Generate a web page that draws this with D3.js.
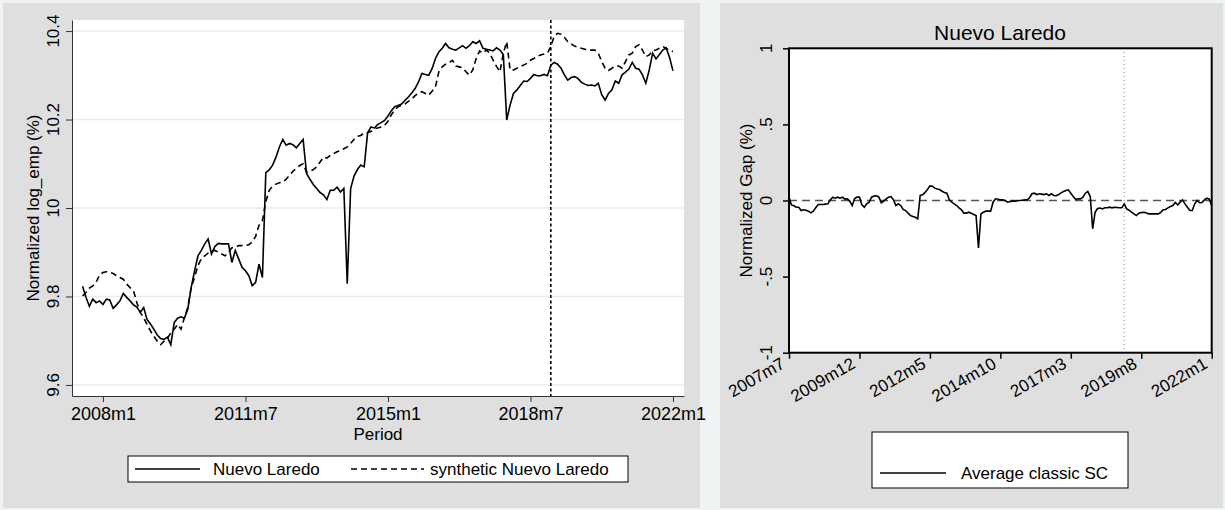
<!DOCTYPE html>
<html>
<head>
<meta charset="utf-8">
<script src="https://cdn.jsdelivr.net/npm/d3@7"></script>
<style>
  body { margin: 0; background: #f0f3f3; }
  text { font-family: "Liberation Sans", Arial, sans-serif; fill: #000; }
</style>
</head>
<body>
<div class="chart"></div>
<script>
// monthly periods 2007m7 .. 2022m1
let periods = []
for (let y = 2007, m = 7; y < 2022 || (y == 2022 && m <= 1); m++) {
  if (m > 12) { m = 1; y++ }
  if (y == 2022 && m > 1) break
  periods.push(y + "m" + m)
}

let leftTicks = ["2008m1", "2011m7", "2015m1", "2018m7", "2022m1"]
let rightTicks = ["2007m7", "2009m12", "2012m5", "2014m10", "2017m3", "2019m8", "2022m1"]
let treatment = "2019m1"
let leftYTicks = [9.6, 9.8, 10, 10.2, 10.4]
let leftYLabels = ["9.6", "9.8", "10", "10.2", "10.4"]
let rightYTicks = [-1, -0.5, 0, 0.5, 1]
let rightYLabels = ["-1", "-.5", "0", ".5", "1"]

let actual = [
  9.823, 9.798, 9.778, 9.794, 9.786, 9.790, 9.782, 9.794, 9.792, 9.773,
  9.781, 9.790, 9.807, 9.798, 9.790, 9.781, 9.776, 9.764, 9.775, 9.748,
  9.738, 9.726, 9.713, 9.705, 9.703, 9.708, 9.691, 9.741, 9.751, 9.754,
  9.751, 9.771, 9.820, 9.858, 9.892, 9.904, 9.919, 9.930, 9.896, 9.913,
  9.920, 9.919, 9.919, 9.919, 9.877, 9.904, 9.885, 9.866, 9.858, 9.847,
  9.824, 9.832, 9.873, 9.843, 10.080, 10.086, 10.097, 10.115, 10.138, 10.155,
  10.142, 10.146, 10.143, 10.136, 10.146, 10.155, 10.078, 10.065, 10.053, 10.044,
  10.035, 10.030, 10.019, 10.040, 10.040, 10.047, 10.036, 10.044, 9.829, 10.044,
  10.072, 10.087, 10.097, 10.093, 10.170, 10.183, 10.181, 10.189, 10.193, 10.198,
  10.208, 10.220, 10.229, 10.232, 10.235, 10.243, 10.251, 10.260, 10.270, 10.285,
  10.304, 10.302, 10.300, 10.315, 10.338, 10.353, 10.361, 10.372, 10.362, 10.359,
  10.357, 10.362, 10.367, 10.361, 10.367, 10.376, 10.372, 10.378, 10.361, 10.359,
  10.357, 10.355, 10.362, 10.357, 10.347, 10.199, 10.233, 10.259, 10.267, 10.277,
  10.287, 10.286, 10.293, 10.302, 10.299, 10.299, 10.302, 10.299, 10.323, 10.329,
  10.325, 10.316, 10.301, 10.289, 10.295, 10.297, 10.293, 10.284, 10.280, 10.277,
  10.278, 10.276, 10.282, 10.256, 10.244, 10.259, 10.267, 10.287, 10.282, 10.301,
  10.307, 10.314, 10.329, 10.316, 10.314, 10.301, 10.282, 10.312, 10.350, 10.337,
  10.347, 10.357, 10.362, 10.340, 10.310
]

let synthetic = [
  9.801, 9.809, 9.819, 9.824, 9.832, 9.849, 9.854, 9.856, 9.855, 9.852,
  9.847, 9.843, 9.839, 9.828, 9.820, 9.813, 9.786, 9.764, 9.752, 9.737,
  9.722, 9.710, 9.699, 9.691, 9.699, 9.705, 9.718, 9.726, 9.737, 9.726,
  9.752, 9.775, 9.820, 9.843, 9.870, 9.885, 9.892, 9.898, 9.902, 9.904,
  9.900, 9.896, 9.892, 9.900, 9.910, 9.911, 9.915, 9.915, 9.915, 9.917,
  9.923, 9.936, 9.961, 9.972, 10.014, 10.040, 10.049, 10.054, 10.057, 10.059,
  10.065, 10.074, 10.083, 10.090, 10.096, 10.100, 10.081, 10.083, 10.087, 10.093,
  10.104, 10.115, 10.113, 10.119, 10.123, 10.127, 10.130, 10.134, 10.138, 10.146,
  10.155, 10.162, 10.164, 10.170, 10.170, 10.173, 10.179, 10.181, 10.183, 10.187,
  10.196, 10.211, 10.221, 10.229, 10.232, 10.235, 10.241, 10.246, 10.254, 10.260,
  10.263, 10.259, 10.255, 10.264, 10.274, 10.308, 10.319, 10.325, 10.329, 10.334,
  10.321, 10.319, 10.317, 10.308, 10.300, 10.312, 10.338, 10.355, 10.350, 10.357,
  10.350, 10.334, 10.320, 10.308, 10.350, 10.376, 10.312, 10.312, 10.316, 10.320,
  10.323, 10.327, 10.334, 10.338, 10.343, 10.346, 10.348, 10.350, 10.365, 10.389,
  10.395, 10.393, 10.386, 10.376, 10.371, 10.366, 10.363, 10.361, 10.359, 10.357,
  10.357, 10.357, 10.350, 10.331, 10.316, 10.311, 10.316, 10.321, 10.321, 10.316,
  10.331, 10.346, 10.350, 10.365, 10.369, 10.357, 10.342, 10.346, 10.356, 10.357,
  10.361, 10.365, 10.361, 10.356, 10.354
]

let gap = [
  0.022, -0.029, -0.035, -0.044, -0.044, -0.066, -0.061, -0.064, -0.070, -0.081,
  -0.070, -0.048, -0.026, -0.026, -0.026, -0.024, -0.022, 0.004, 0.022, 0.015,
  0.022, 0.015, 0.022, 0.009, 0.011, -0.004, -0.033, 0.013, 0.022, 0.022,
  -0.029, -0.044, -0.022, -0.011, 0.022, 0.029, 0.031, 0.022, -0.015, -0.004,
  0.011, 0.022, 0.026, 0.004, -0.033, -0.022, -0.033, -0.059, -0.066, -0.083,
  -0.099, -0.105, -0.110, -0.121, 0.033, 0.037, 0.053, 0.072, 0.096, 0.094,
  0.081, 0.075, 0.072, 0.061, 0.053, 0.048, 0.004, -0.011, -0.022, -0.033,
  -0.048, -0.061, -0.083, -0.083, -0.077, -0.083, -0.092, -0.099, -0.311, -0.088,
  -0.077, -0.070, -0.070, -0.070, -0.011, 0.011, 0.008, 0.004, 0.004, 0.000,
  -0.011, -0.007, -0.004, -0.004, -0.002, 0.000, 0.002, 0.004, 0.004, 0.018,
  0.044, 0.048, 0.039, 0.044, 0.042, 0.039, 0.044, 0.033, 0.044, 0.033,
  0.031, 0.039, 0.050, 0.059, 0.066, 0.070, 0.048, 0.026, 0.007, 0.011,
  0.011, 0.022, 0.048, 0.059, 0.026, -0.186, -0.077, -0.053, -0.050, -0.055,
  -0.048, -0.048, -0.044, -0.048, -0.044, -0.046, -0.048, -0.048, -0.022, -0.055,
  -0.064, -0.077, -0.088, -0.099, -0.083, -0.079, -0.077, -0.081, -0.088, -0.088,
  -0.088, -0.088, -0.088, -0.079, -0.061, -0.059, -0.048, -0.039, -0.033, -0.013,
  -0.029, -0.011, 0.004, -0.022, -0.044, -0.066, -0.066, -0.022, 0.000, -0.015,
  -0.013, 0.004, 0.015, 0.009, -0.033
]

let w = 1225
let h = 510
let idx = (p) => periods.indexOf(p)

let svg = d3.select(".chart")
  .append("svg")
  .attr("width", w)
  .attr("height", h)
  .style("display", "block")

// ====== left panel ======
svg.append("rect").attr("x", 3).attr("y", 3).attr("width", 697).attr("height", 505).style("fill", "#dfdfdf")

const xL = d3.scaleLinear().domain([-3.12, 177.25]).range([72, 684])
const yL = d3.scaleLinear().domain([9.575, 10.425]).range([396, 20])

svg.append("rect").attr("x", 72).attr("y", 20).attr("width", 612).attr("height", 376).style("fill", "white")

svg.selectAll(".gridL")
  .data(leftYTicks)
  .enter()
  .append("line")
  .attr("x1", 72).attr("x2", 684)
  .attr("y1", (d) => yL(d)).attr("y2", (d) => yL(d))
  .style("stroke", "#e6eef0").style("stroke-width", 1.5)

let xAxisL = svg.append("g")
  .attr("transform", "translate(0,396)")
  .call(d3.axisBottom(xL).tickValues(leftTicks.map(idx)).tickFormat((d) => periods[d]).tickSize(6).tickSizeOuter(0))
xAxisL.selectAll("text").style("font-size", "18px").attr("dy", "1.0em").attr("y", 6)

let yAxisL = svg.append("g")
  .attr("transform", "translate(72,0)")
  .call(d3.axisLeft(yL).tickValues(leftYTicks).tickFormat("").tickSize(6).tickSizeOuter(0))
svg.selectAll(".ylabL")
  .data(leftYTicks)
  .enter()
  .append("text")
  .attr("transform", (d) => "translate(59," + yL(d) + ") rotate(-90)")
  .attr("text-anchor", "middle")
  .style("font-size", "17px")
  .text((d, i) => leftYLabels[i])
svg.selectAll(".domain, .tick line").style("stroke", "#333")

svg.append("text")
  .attr("transform", "translate(38.5,208) rotate(-90)")
  .attr("text-anchor", "middle")
  .style("font-size", "17px")
  .text("Normalized log_emp (%)")
svg.append("text")
  .attr("x", 378).attr("y", 440)
  .attr("text-anchor", "middle")
  .style("font-size", "17px")
  .text("Period")

let lineL = d3.line().x((d, i) => xL(i)).y((d) => yL(d))
svg.append("path").datum(synthetic).attr("d", lineL)
  .style("fill", "none").style("stroke", "#000").style("stroke-width", 1.6).style("stroke-dasharray", "6,4")
svg.append("path").datum(actual).attr("d", lineL)
  .style("fill", "none").style("stroke", "#000").style("stroke-width", 1.6)

svg.append("line")
  .attr("x1", xL(idx(treatment))).attr("x2", xL(idx(treatment)))
  .attr("y1", 20).attr("y2", 396)
  .style("stroke", "#000").style("stroke-width", 1.6).style("stroke-dasharray", "3,2.5")

// legend left
svg.append("rect").attr("x", 128).attr("y", 456).attr("width", 500).attr("height", 26)
  .style("fill", "white").style("stroke", "#000").style("stroke-width", 1)
svg.append("line").attr("x1", 135).attr("x2", 200).attr("y1", 469).attr("y2", 469)
  .style("stroke", "#000").style("stroke-width", 1.6)
svg.append("text").attr("x", 213).attr("y", 475).style("font-size", "17px").text("Nuevo Laredo")
svg.append("line").attr("x1", 351).attr("x2", 424).attr("y1", 469).attr("y2", 469)
  .style("stroke", "#000").style("stroke-width", 1.6).style("stroke-dasharray", "6,4")
svg.append("text").attr("x", 430).attr("y", 475).style("font-size", "17px").text("synthetic Nuevo Laredo")

// ====== right panel ======
svg.append("rect").attr("x", 720).attr("y", 3).attr("width", 503).attr("height", 505).style("fill", "#dfdfdf")

const xR = d3.scaleLinear().domain([0, 174]).range([789, 1211.7])
const yR = d3.scaleLinear().domain([-1, 1]).range([352.7, 48.3])

svg.append("rect").attr("x", 789).attr("y", 48.3).attr("width", 422.7).attr("height", 304.4)
  .style("fill", "white")

svg.append("line")
  .attr("x1", 789).attr("x2", 1211.7).attr("y1", yR(0)).attr("y2", yR(0))
  .style("stroke", "#555").style("stroke-width", 1.5).style("stroke-dasharray", "8,5")
svg.append("line")
  .attr("x1", xR(idx(treatment))).attr("x2", xR(idx(treatment)))
  .attr("y1", 52).attr("y2", 349)
  .style("stroke", "#888").style("stroke-width", 1).style("stroke-dasharray", "1,3")

let lineR = d3.line().x((d, i) => xR(i)).y((d) => yR(d))
svg.append("path").datum(gap).attr("d", lineR)
  .style("fill", "none").style("stroke", "#000").style("stroke-width", 1.6)

svg.append("rect").attr("x", 789).attr("y", 48.3).attr("width", 422.7).attr("height", 304.4)
  .style("fill", "none").style("stroke", "#000").style("stroke-width", 2)

let xAxisR = svg.append("g")
  .attr("transform", "translate(0,352.7)")
  .call(d3.axisBottom(xR).tickValues(rightTicks.map(idx)).tickFormat("").tickSize(6).tickSizeOuter(0))
xAxisR.select(".domain").remove()
xAxisR.selectAll(".tick line").style("stroke", "#000").style("stroke-width", 1.5)
svg.selectAll(".xlabR")
  .data(rightTicks)
  .enter()
  .append("text")
  .attr("transform", (d) => "translate(" + (xR(idx(d)) - 3) + ",367) rotate(-30)")
  .attr("text-anchor", "end")
  .style("font-size", "17px")
  .text((d) => d)

let yAxisR = svg.append("g")
  .attr("transform", "translate(789,0)")
  .call(d3.axisLeft(yR).tickValues(rightYTicks).tickFormat("").tickSize(6).tickSizeOuter(0))
yAxisR.select(".domain").remove()
yAxisR.selectAll(".tick line").style("stroke", "#000").style("stroke-width", 1.5)
svg.selectAll(".ylabR")
  .data(rightYTicks)
  .enter()
  .append("text")
  .attr("transform", (d) => "translate(772," + yR(d) + ") rotate(-90)")
  .attr("text-anchor", "middle")
  .style("font-size", "17px")
  .text((d, i) => rightYLabels[i])

svg.append("text")
  .attr("transform", "translate(752,200.5) rotate(-90)")
  .attr("text-anchor", "middle")
  .style("font-size", "17px")
  .text("Normalized Gap (%)")
svg.append("text")
  .attr("x", 1000).attr("y", 40)
  .attr("text-anchor", "middle")
  .style("font-size", "21px")
  .text("Nuevo Laredo")

// legend right
svg.append("rect").attr("x", 872).attr("y", 432).attr("width", 256).attr("height", 56)
  .style("fill", "white").style("stroke", "#000").style("stroke-width", 1)
svg.append("line").attr("x1", 880).attr("x2", 946).attr("y1", 473).attr("y2", 473)
  .style("stroke", "#000").style("stroke-width", 1.6)
svg.append("text").attr("x", 961).attr("y", 479).style("font-size", "17px").text("Average classic SC")
</script>
</body>
</html>
